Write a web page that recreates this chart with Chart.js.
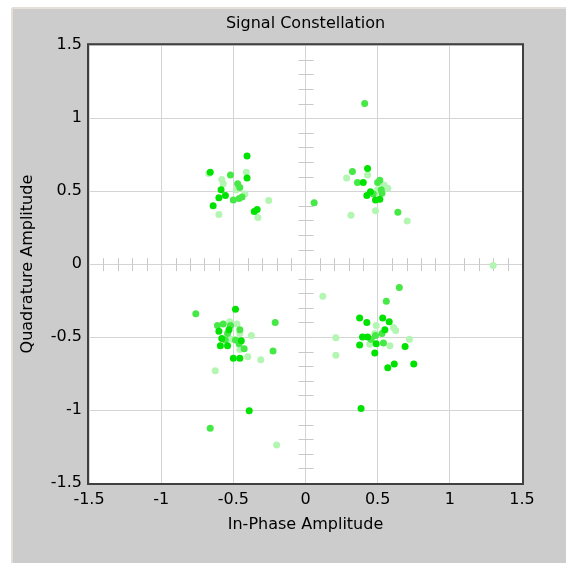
<!DOCTYPE html>
<html>
<head>
<meta charset="utf-8">
<script src="https://cdn.jsdelivr.net/npm/chart.js@4/dist/chart.umd.min.js"></script>
<style>
  body { margin: 0; background: #fff; }
  #wrap { width: 566px; height: 563px; position: relative; }
</style>
</head>
<body>
<div id="wrap"><canvas id="scope"></canvas></div>
<script>
// symbol points, grouped by how bright they are drawn (newest = brightest)
const brightPoints = [
    [-0.405, 0.74], [-0.66, 0.63], [-0.405, 0.59], [-0.585, 0.51], [-0.555, 0.47], [-0.60, 0.455],
    [-0.64, 0.40], [-0.355, 0.36], [-0.335, 0.375],
    [0.43, 0.655], [0.40, 0.56], [0.45, 0.495], [0.425, 0.47], [0.485, 0.44], [0.515, 0.445],
    [-0.485, -0.31], [-0.53, -0.45], [-0.60, -0.46], [-0.58, -0.51], [-0.445, -0.525], [-0.59, -0.56],
    [-0.54, -0.56], [-0.50, -0.645], [-0.455, -0.645], [-0.39, -1.005],
    [0.375, -0.37], [0.535, -0.37], [0.425, -0.40], [0.58, -0.395], [0.55, -0.45], [0.395, -0.50],
    [0.43, -0.50], [0.375, -0.555], [0.49, -0.545], [0.69, -0.565], [0.48, -0.61], [0.615, -0.685],
    [0.57, -0.71], [0.75, -0.685], [0.385, -0.99]
];
const mediumPoints = [
    [-0.52, 0.61], [-0.47, 0.55], [-0.455, 0.525], [-0.50, 0.44], [-0.46, 0.45], [-0.44, 0.46],
    [0.41, 1.10], [0.325, 0.635], [0.36, 0.56], [0.515, 0.575], [0.50, 0.56], [0.525, 0.51],
    [0.47, 0.48], [0.53, 0.485], [0.06, 0.42], [0.64, 0.355],
    [-0.76, -0.34], [-0.21, -0.40], [-0.61, -0.42], [-0.57, -0.41], [-0.52, -0.42], [-0.455, -0.45],
    [-0.54, -0.475], [-0.555, -0.52], [-0.485, -0.52], [-0.46, -0.545], [-0.425, -0.58],
    [-0.225, -0.595], [-0.66, -1.125],
    [0.65, -0.16], [0.56, -0.255], [0.53, -0.475], [0.485, -0.49], [0.455, -0.515], [0.54, -0.54]
];
const palePoints = [
    [-0.67, 0.62], [-0.41, 0.63], [-0.58, 0.58], [-0.57, 0.55], [-0.48, 0.51], [-0.42, 0.48],
    [-0.255, 0.435], [-0.33, 0.32], [-0.60, 0.34],
    [0.285, 0.59], [0.43, 0.61], [0.545, 0.54], [0.57, 0.52], [0.50, 0.51], [0.485, 0.365],
    [0.315, 0.335], [0.705, 0.295],
    [-0.525, -0.395], [-0.475, -0.41], [-0.455, -0.475], [-0.375, -0.49], [-0.51, -0.515],
    [-0.455, -0.585], [-0.40, -0.635], [-0.31, -0.655], [-0.625, -0.73], [-0.20, -1.24],
    [0.12, -0.22], [0.49, -0.42], [0.61, -0.435], [0.625, -0.455], [0.48, -0.475], [0.21, -0.505],
    [0.72, -0.515], [0.445, -0.55], [0.585, -0.56], [0.21, -0.625], [1.30, -0.01]
];
const tickValues = [-1.5, -1, -0.5, 0, 0.5, 1, 1.5];
const tickLabels = ['-1.5', '-1', '-0.5', '0', '0.5', '1', '1.5'];

const FONT = 'DejaVu Sans';

const toXY = pts => pts.map(p => ({ x: p[0], y: p[1] }));

// gray panel, white plot area, the little ticks on the center cross and the frame
const scopePanel = {
    id: 'scopePanel',
    beforeDraw(chart) {
        const { ctx, chartArea: a, width, height } = chart;
        ctx.save();
        ctx.fillStyle = '#ffffff';
        ctx.fillRect(0, 0, width, height);
        ctx.fillStyle = '#cccccc';
        ctx.fillRect(13, 8, width - 13, height - 8);
        ctx.strokeStyle = '#e4e0d8';
        ctx.lineWidth = 2;
        ctx.beginPath();
        ctx.moveTo(12, 8); ctx.lineTo(12, height);
        ctx.moveTo(12, 8); ctx.lineTo(width, 8);
        ctx.stroke();
        ctx.fillStyle = '#ffffff';
        ctx.fillRect(a.left, a.top, a.right - a.left, a.bottom - a.top);
        ctx.restore();
    },
    beforeDatasetsDraw(chart) {
        const { ctx, scales: { x, y } } = chart;
        const x0 = x.getPixelForValue(0), y0 = y.getPixelForValue(0);
        ctx.save();
        ctx.strokeStyle = '#c8c8c8';
        ctx.lineWidth = 1;
        ctx.beginPath();
        for (let i = -15; i <= 15; i++) {
            if (i % 5 === 0) continue;
            const px = Math.round(x.getPixelForValue(i / 10)) + 0.5;
            ctx.moveTo(px, y0 - 6); ctx.lineTo(px, y0 + 7);
            const py = Math.round(y.getPixelForValue(i / 10)) + 0.5;
            ctx.moveTo(x0 - 7, py); ctx.lineTo(x0 + 8, py);
        }
        ctx.stroke();
        ctx.restore();
    },
    afterDraw(chart) {
        const { ctx, chartArea: a } = chart;
        ctx.save();
        ctx.strokeStyle = '#404040';
        ctx.lineWidth = 2;
        ctx.strokeRect(a.left - 1, a.top - 1, a.right - a.left + 2, a.bottom - a.top + 2);
        ctx.restore();
    }
};

const axisTicks = {
    min: -1.5,
    max: 1.5,
    afterBuildTicks: scale => { scale.ticks = tickValues.map(v => ({ value: v })); },
};

new Chart(document.getElementById('scope'), {
    type: 'scatter',
    data: {
        datasets: [
            { label: 'bright', data: toXY(brightPoints), backgroundColor: 'rgb(0,226,0)' },
            { label: 'medium', data: toXY(mediumPoints), backgroundColor: 'rgb(70,232,70)' },
            { label: 'pale', data: toXY(palePoints), backgroundColor: 'rgb(178,246,178)' }
        ]
    },
    options: {
        responsive: true,
        maintainAspectRatio: false,
        animation: false,
        layout: { padding: { left: 14, right: 44, top: 0, bottom: 0 } },
        elements: { point: { radius: 3.5, borderWidth: 0, pointStyle: 'circle' } },
        plugins: {
            legend: { display: false },
            tooltip: { enabled: false },
            title: {
                display: true,
                fullSize: false,
                text: 'Signal Constellation',
                color: '#000',
                font: { family: FONT, size: 16, weight: 'normal' },
                padding: { top: 14, bottom: 12 }
            }
        },
        scales: {
            x: {
                ...axisTicks,
                afterFit: s => { s.height = 80; },
                grid: { color: '#d4d4d4', drawTicks: false },
                border: { display: false },
                ticks: {
                    color: '#000', padding: 7, maxRotation: 0,
                    font: { family: FONT, size: 16 },
                    callback: v => tickLabels[tickValues.indexOf(v)]
                },
                title: {
                    display: true, text: 'In-Phase Amplitude', color: '#000',
                    font: { family: FONT, size: 16 },
                    padding: { top: 0, bottom: 29 }
                }
            },
            y: {
                ...axisTicks,
                afterFit: s => { s.width = 75; },
                grid: { color: '#d4d4d4', drawTicks: false },
                border: { display: false },
                ticks: {
                    color: '#000', padding: 7,
                    font: { family: FONT, size: 16 },
                    callback: v => tickLabels[tickValues.indexOf(v)]
                },
                title: {
                    display: true, text: 'Quadrature Amplitude', color: '#000',
                    font: { family: FONT, size: 16 },
                    padding: { top: 4, bottom: 0 }
                }
            }
        }
    },
    plugins: [scopePanel]
});
</script>
</body>
</html>
